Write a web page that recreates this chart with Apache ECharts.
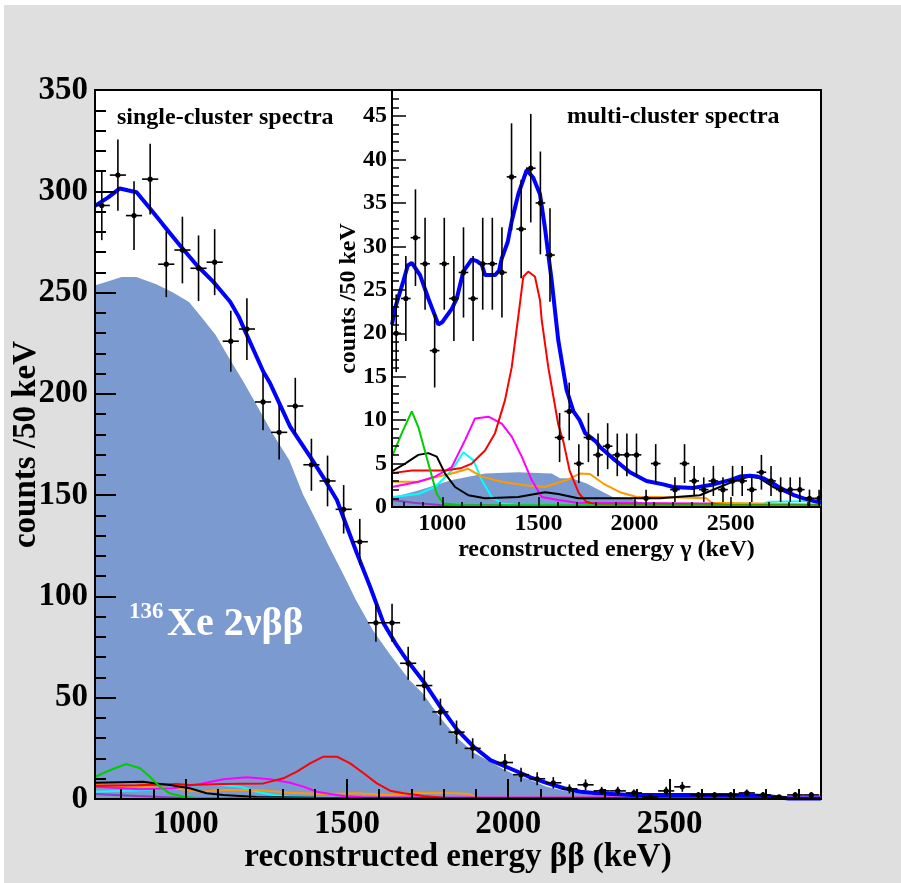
<!DOCTYPE html>
<html><head><meta charset="utf-8">
<script src="https://cdn.jsdelivr.net/npm/echarts@6/dist/echarts.min.js"></script>
<style>html,body{margin:0;padding:0;background:#dfdfdf}#c{width:901px;height:883px}</style>
</head><body><div id="c"></div>
<script>
// ---------- single-cluster (main) data ----------
const singleEnergy = [740,790,840,890,940,990,1040,1090,1140,1190,1240,1290,1340,1390,1440,1490,1540,1590,1640,1690,1740,1790,1840,1890,1940,1990,2040,2090,2140,2190,2240,2290,2340,2390,2440,2490,2540,2590,2640,2690,2740,2790,2840,2890,2940];
const singleCounts = [293,308,288,306,264,271,262,265,226,232,196,181,194,165,157,143,127,87,87,67,56,43,33,25,null,18,12,10,8,5,7,4,4,3,1,4,6,2,2,2,3,2,1,2,2];
const singleTotal = [[719,292.8],[760,297],[796,301.4],[820,300.5],[848,299.5],[889,291.6],[931,283.3],[982,273.4],[1034,263.6],[1086,255.3],[1138,245.5],[1165,238],[1190,229],[1241,210.9],[1262,205.2],[1324,183.8],[1386,169],[1430,158],[1469,147.6],[1500,134.4],[1531,121.3],[1572,104.8],[1614,86.7],[1650,77],[1686,68.6],[1738,57.9],[1790,45.5],[1842,34.1],[1893,25.8],[1945,19.2],[2017,14.3],[2069,10.7],[2121,7.8],[2173,5.3],[2224,3.6],[2276,2.8],[2380,2],[2500,2],[2700,2],[2800,1.5],[2870,0.3],[2970,0.3]];
const singleXe2nbb = [[719,254],[760,256],[800,258.1],[848,258],[910,254.5],[962,250.4],[1013,245.5],[1055,237.3],[1096,229],[1138,217.5],[1179,206.8],[1220,195.3],[1272,180.5],[1324,167.3],[1365,150.9],[1407,137.7],[1448,124.5],[1490,111.4],[1531,98.2],[1583,83.4],[1634,71.9],[1697,58.7],[1738,52.2],[1790,40.6],[1842,30.8],[1893,23.3],[1966,16.8],[2017,12.7],[2069,9.9],[2121,6.4],[2173,4.4],[2224,3.1],[2300,2],[2400,1],[2450,0.5],[2500,0],[2970,0]];
const singleGreen = [[719,11],[767,14.3],[816,17.3],[859,15.2],[889,11],[920,6.1],[951,2.8],[993,1.1],[1050,0.3],[2970,0.2]];
const singleBlack = [[719,8],[868,8.5],[909,7.7],[951,6.9],[1013,5.3],[1065,2.8],[1117,2],[1169,1.5],[1220,1.0],[1400,0.6],[2970,0.4]];
const singleRed = [[719,6.6],[850,6.8],[972,7.4],[1013,6.9],[1117,7.4],[1241,7.7],[1303,10.2],[1345,13.5],[1386,17.6],[1427,20.9],[1469,20.9],[1510,17.6],[1552,12.7],[1593,7.7],[1634,4.1],[1676,2.8],[1717,2],[1738,1.5],[1800,0.6],[2970,0.5]];
const singleMagenta = [[719,6.1],[859,4.8],[962,5.3],[1044,7.4],[1117,9.7],[1190,10.7],[1262,9.7],[1324,8],[1365,6.1],[1407,3.6],[1448,2.5],[1490,1.5],[1550,0.9],[2970,0.8]];
const singleCyan = [[719,3.6],[859,4.3],[962,5.3],[1055,7.4],[1107,6.9],[1169,6.1],[1220,3.6],[1272,2],[1324,1.1],[1400,0.5],[2970,0.4]];
const singleOrange = [[719,6.9],[859,6.1],[962,5.3],[1044,3.6],[1117,4.4],[1220,4.4],[1324,3.1],[1427,2.5],[1531,2.8],[1634,2],[1729,3.1],[1842,2.8],[1880,2.5],[1900,0.8],[2970,0.6]];
const singlePurple = [[719,2.5],[850,1.5],[1000,0.5],[2970,0.3]];

// ---------- multi-cluster (inset) data ----------
const multiEnergy = [760,810,860,910,960,1010,1060,1110,1160,1210,1260,1310,1360,1410,1460,1510,1560,1610,1660,1710,1760,1810,1860,1910,1960,2010,2060,2110,2160,2210,2260,2310,2360,2410,2460,2510,2560,2610,2660,2710,2760,2810,2860,2910,2960];
const multiCounts = [20,24,31,28,18,28,24,27,24,28,28,27,38,32,39,35,29,8,11,5,8,6,7,6,6,6,1,5,null,2,5,3,2,3,2,3,3,2,4,3,2,2,2,1,1];
const multiTotal = [[738,21],[754,22.9],[797,26],[820,27.8],[841,28.1],[884,26.7],[927,24],[962,22],[979,21],[1000,21.3],[1049,22.8],[1075,24],[1109,27.1],[1153,28.5],[1180,28.3],[1205,27.9],[1222,26.7],[1274,26.7],[1295,27.2],[1309,28.6],[1340,30.5],[1361,32.9],[1395,36],[1439,38.8],[1473,37.9],[1508,36],[1534,32.1],[1569,26],[1603,19.2],[1646,13.5],[1682,11],[1714,10],[1743,8.5],[1801,7.5],[1820,6.9],[1887,5.6],[1976,4.0],[2062,3.0],[2149,2.6],[2201,2.3],[2305,2.2],[2410,2.6],[2496,3.1],[2548,3.5],[2600,3.6],[2640,3.5],[2670,3.3],[2721,2.7],[2757,2.2],[2825,1.4],[2880,1.0],[2929,0.7],[2970,0.5]];
const multiXe2nbb = [[738,1.1],[875,1.9],[1049,3.1],[1222,3.85],[1395,4.0],[1569,3.85],[1612,3.3],[1673,3.3],[1751,2.7],[1820,1.9],[1887,1.15],[1976,1.0],[2030,0.5],[2100,0],[2970,0]];
const multiRed = [[738,3.9],[841,4.2],[1014,4.2],[1100,4.5],[1153,5.0],[1222,6.5],[1274,8.5],[1326,12.3],[1361,16.1],[1395,21.9],[1421,26.5],[1447,27.1],[1482,26.5],[1508,23.8],[1517,21.5],[1551,16.1],[1603,9.5],[1630,7.5],[1662,4.2],[1710,1.6],[1749,0.6],[1800,0.3],[2970,0.2]];
const multiGreen = [[738,5.8],[789,8.5],[841,11],[875,9.2],[927,5.0],[971,1.5],[1005,0.4],[1100,0.2],[2970,0.2]];
const multiBlack = [[738,4.1],[806,5.0],[875,6.0],[927,6.2],[971,5.8],[1014,3.85],[1066,2.3],[1135,1.35],[1222,1.0],[1395,1.15],[1534,1.7],[1603,1.5],[1707,1.0],[1785,1.0],[2131,1.0],[2340,1.35],[2444,2.3],[2531,3.1],[2600,3.5],[2652,3.3],[2721,2.3],[2825,1.35],[2929,0.7],[2970,0.5]];
const multiMagenta = [[738,2.3],[875,2.9],[962,3.5],[1049,4.6],[1118,7.7],[1170,10.2],[1240,10.4],[1309,9.6],[1361,8.1],[1413,5.8],[1465,3.1],[1517,1.15],[1603,0.8],[1700,0.5],[2400,0.4],[2500,0.2],[2970,0.2]];
const multiCyan = [[738,1.15],[875,1.5],[962,2.3],[1049,4.2],[1109,6.3],[1161,5.4],[1205,3.1],[1257,1.15],[1309,0.4],[1400,0.2],[2650,0.2],[2700,0.6],[2970,0.7]];
const multiOrange = [[738,2.9],[875,2.9],[979,3.5],[1049,3.85],[1135,4.4],[1205,3.5],[1309,2.9],[1430,2.5],[1534,2.3],[1646,3.1],[1716,3.85],[1768,3.8],[1837,2.7],[1924,1.7],[2011,1.15],[2131,1.15],[2235,1.1],[2374,1.0],[2400,0.5],[2970,0.3]];
const multiPurple = [[738,0.8],[850,0.5],[1000,0.2],[2970,0.1]];

// ---------- ticks ----------
const mainXMajor = [1000,1500,2000,2500];
const mainXMinor = [800,900,1100,1200,1300,1400,1600,1700,1800,1900,2100,2200,2300,2400,2600,2700,2800,2900];
const insetXMajor = [1000,1500,2000,2500];
const insetXMinor = [800,900,1100,1200,1300,1400,1600,1700,1800,1900,2100,2200,2300,2400,2600,2700,2800,2900];
const insetYMajor = [0,5,10,15,20,25,30,35,40,45];
const insetYMinor = [1,2,3,4,6,7,8,9,11,12,13,14,16,17,18,19,21,22,23,24,26,27,28,29,31,32,33,34,36,37,38,39,41,42,43,44,46,47];

const FONT = "'Liberation Serif','Times New Roman',serif";
const BLUE_FILL = '#7b9ad0';
const plain = v => String(v);

function pts(xs, ys){ const out=[]; for(let i=0;i<xs.length;i++){ if(ys[i]!=null) out.push([xs[i], ys[i], Math.sqrt(ys[i])]); } return out; }

function errRender(halfWidth){
  return function(params, api){
    const cs = params.coordSys;
    const x = api.value(0), y = api.value(1), e = api.value(2);
    const c = api.coord([x, y]);
    const t = api.coord([x, y + e]);
    const b = api.coord([x, Math.max(0, y - e)]);
    const l = api.coord([x - halfWidth, y]);
    const r = api.coord([x + halfWidth, y]);
    const cl = v => Math.max(cs.x, Math.min(cs.x + cs.width, v));
    const ct = v => Math.max(cs.y, Math.min(cs.y + cs.height, v));
    return {type:'group', children:[
      {type:'line', shape:{x1:c[0], y1:ct(t[1]), x2:c[0], y2:ct(b[1])}, style:{stroke:'#000', lineWidth:1.6}},
      {type:'line', shape:{x1:cl(l[0]), y1:c[1], x2:cl(r[0]), y2:c[1]}, style:{stroke:'#000', lineWidth:1.6}},
      {type:'circle', shape:{cx:c[0], cy:c[1], r:2.6}, style:{fill:'#000'}}
    ]};
  };
}

function line(data, color, width, xi, yi, zl, z){
  return {type:'line', data, xAxisIndex:xi, yAxisIndex:yi, showSymbol:false, symbol:'none', silent:true,
    lineStyle:{color, width}, zlevel:zl, z:z||3, animation:false};
}

const chart = echarts.init(document.getElementById('c'), null, {renderer:'canvas'});
const labelStyle = (size)=>({color:'#000', fontFamily:FONT, fontWeight:'bold', fontSize:size});

chart.setOption({
  backgroundColor:'#dfdfdf',
  animation:false,
  grid:[
    {left:95, top:90, width:726, height:709, show:true, backgroundColor:'#fff', borderColor:'#000', borderWidth:2, zlevel:0, z:0, containLabel:false, outerBoundsMode:'none'},
    {left:392, top:90, width:429, height:417, show:true, backgroundColor:'#fff', borderColor:'#000', borderWidth:2, zlevel:1, z:0, containLabel:false, outerBoundsMode:'none'}
  ],
  xAxis:[
    {gridIndex:0, type:'value', position:'bottom', min:719, max:2970, splitLine:{show:false}, z:10,
     axisLine:{show:true, lineStyle:{color:'#000', width:2}},
     axisTick:{show:true, inside:true, length:20, customValues:mainXMajor, lineStyle:{color:'#000', width:2}},
     axisLabel:{show:true, customValues:mainXMajor, margin:9, formatter:plain, ...labelStyle(33)},
     name:'reconstructed energy ββ (keV)', nameLocation:'middle', nameGap:42, nameMoveOverlap:false,
     nameTextStyle:{...labelStyle(33)}},
    {gridIndex:0, type:'value', position:'bottom', min:719, max:2970, splitLine:{show:false}, axisLine:{show:false}, z:10,
     axisTick:{show:true, inside:true, length:10, customValues:mainXMinor, lineStyle:{color:'#000', width:2}},
     axisLabel:{show:false}},
    {gridIndex:1, type:'value', position:'bottom', min:738, max:2970, splitLine:{show:false}, zlevel:1, z:10,
     axisLine:{show:true, lineStyle:{color:'#000', width:2}},
     axisTick:{show:true, inside:true, length:10, customValues:insetXMajor, lineStyle:{color:'#000', width:1.5}},
     axisLabel:{show:true, customValues:insetXMajor, margin:5, formatter:plain, ...labelStyle(24)},
     name:'reconstructed energy γ (keV)', nameLocation:'middle', nameGap:31, nameMoveOverlap:false,
     nameTextStyle:{...labelStyle(24)}},
    {gridIndex:1, type:'value', position:'bottom', min:738, max:2970, splitLine:{show:false}, axisLine:{show:false}, zlevel:1, z:10,
     axisTick:{show:true, inside:true, length:5, customValues:insetXMinor, lineStyle:{color:'#000', width:1.5}},
     axisLabel:{show:false}}
  ],
  yAxis:[
    {gridIndex:0, type:'value', position:'left', min:0, max:350, interval:50, splitLine:{show:false}, z:10,
     axisLine:{show:true, lineStyle:{color:'#000', width:2}},
     axisTick:{show:true, inside:true, length:21, lineStyle:{color:'#000', width:2}},
     minorTick:{show:true, splitNumber:5, length:11, lineStyle:{color:'#000', width:2}},
     axisLabel:{margin:7, formatter:plain, ...labelStyle(33)},
     name:'counts /50 keV', nameLocation:'middle', nameGap:52, nameRotate:90, nameMoveOverlap:false,
     nameTextStyle:{...labelStyle(33)}},
    {gridIndex:1, type:'value', position:'left', min:0, max:48, splitLine:{show:false}, zlevel:1, z:10,
     axisLine:{show:true, lineStyle:{color:'#000', width:2}},
     axisTick:{show:true, inside:true, length:14, customValues:insetYMajor, lineStyle:{color:'#000', width:1.5}},
     axisLabel:{show:true, customValues:insetYMajor, margin:5, formatter:plain, ...labelStyle(24)},
     name:'counts /50 keV', nameLocation:'middle', nameGap:31, nameRotate:90, nameMoveOverlap:false,
     nameTextStyle:{...labelStyle(24)}},
    {gridIndex:1, type:'value', position:'left', min:0, max:48, splitLine:{show:false}, axisLine:{show:false}, zlevel:1, z:10,
     axisTick:{show:true, inside:true, length:7, customValues:insetYMinor, lineStyle:{color:'#000', width:1.5}},
     axisLabel:{show:false}}
  ],
  graphic:[
    {type:'rect', left:0, top:0, z:-1, shape:{width:901, height:5}, style:{fill:'#ffffff'}},
    {type:'rect', left:0, top:0, z:-1, shape:{width:4, height:883}, style:{fill:'#ffffff'}},
    {type:'text', left:117, top:106, z:100, style:{text:'single-cluster spectra', fill:'#000', font:"bold 24px "+FONT}},
    {type:'text', left:567, top:105, z:100, zlevel:1, style:{text:'multi-cluster spectra', fill:'#000', font:"bold 24px "+FONT}},
    {type:'text', left:129, top:601, z:100, style:{text:'136', fill:'#fff', font:"bold 23px "+FONT}},
    {type:'text', left:167, top:605, z:100, style:{text:'Xe 2νββ', fill:'#fff', font:"bold 40px "+FONT}}
  ],
  series:[
    {type:'line', data:singleXe2nbb, xAxisIndex:0, yAxisIndex:0, showSymbol:false, symbol:'none', silent:true,
     lineStyle:{color:'#ffffff', width:1.5}, areaStyle:{color:BLUE_FILL, opacity:1}, z:2},
    line(singlePurple, '#8e3fbf', 2, 0, 0, 0),
    line(singleCyan, '#00ffff', 2, 0, 0, 0),
    line(singleOrange, '#ff9900', 2, 0, 0, 0),
    line(singleMagenta, '#ff00ff', 2, 0, 0, 0),
    line(singleRed, '#ff0000', 2, 0, 0, 0),
    line(singleBlack, '#000000', 2, 0, 0, 0),
    line(singleGreen, '#00cc00', 2, 0, 0, 0),
    line(singleTotal, '#0000ff', 4, 0, 0, 0, 4),
    {type:'custom', xAxisIndex:0, yAxisIndex:0, data:pts(singleEnergy, singleCounts), renderItem:errRender(25), z:5, silent:true},
    {type:'line', data:multiXe2nbb, xAxisIndex:2, yAxisIndex:1, showSymbol:false, symbol:'none', silent:true,
     lineStyle:{width:0}, areaStyle:{color:BLUE_FILL, opacity:1}, zlevel:1, z:2},
    line(multiPurple, '#8e3fbf', 2, 2, 1, 1),
    line(multiCyan, '#00ffff', 2, 2, 1, 1),
    line(multiOrange, '#ff9900', 2, 2, 1, 1),
    line(multiMagenta, '#ff00ff', 2, 2, 1, 1),
    line(multiRed, '#ff0000', 2, 2, 1, 1),
    line(multiBlack, '#000000', 2, 2, 1, 1),
    line(multiGreen, '#00cc00', 2, 2, 1, 1),
    line(multiTotal, '#0000ff', 4, 2, 1, 1, 4),
    {type:'custom', xAxisIndex:2, yAxisIndex:1, data:pts(multiEnergy, multiCounts), renderItem:errRender(25), zlevel:1, z:5, silent:true}
  ]
});
</script></body></html>
